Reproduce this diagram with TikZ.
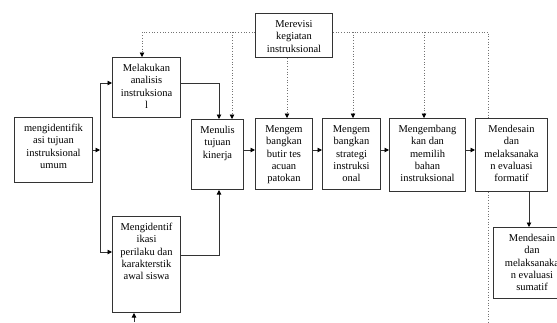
\documentclass[tikz,border=0pt]{standalone}
\usepackage{fontspec}
\setmainfont{Liberation Serif}
\usetikzlibrary{arrows.meta}
\newcommand{\bt}[3]{\parbox[c][#2][t]{#1}{\centering\vspace*{5.5pt}\strut #3\par}}
\begin{document}
\begin{tikzpicture}[x=1pt,y=-1pt,
  box/.style={draw=black!80, line width=1pt, fill=white, inner sep=0pt, anchor=north west, font=\fontsize{10.5}{12.3}\selectfont},
  conn/.style={draw=black!80, line width=0.9pt},
  arr/.style={conn, -{Triangle[length=4.5pt,width=4.5pt,fill=black,color=black]}},
  fb/.style={draw=black!55, dotted, line width=0.7pt},
  fbarr/.style={fb, -{Triangle[length=4.5pt,width=4.5pt,fill=black,color=black]}}]
\useasboundingbox (0,0) rectangle (557,322);

\node[box] (merevisi) at (255,13) {\bt{77pt}{44pt}{Merevisi\\kegiatan\\instruksional}};
\node[box] (melakukan) at (112,57) {\bt{68pt}{60pt}{Melakukan\\analisis\\instruksiona\\l}};
\node[box] (ident) at (14,117) {\bt{78pt}{65pt}{mengidentifik\\asi tujuan\\instruksional\\umum}};
\node[box] (menulis) at (191,119) {\bt{52pt}{70pt}{Menulis\\tujuan\\kinerja}};
\node[box] (butir) at (255,118) {\bt{57pt}{71pt}{Mengem\\bangkan\\butir tes\\acuan\\patokan}};
\node[box] (strategi) at (322,118) {\bt{58pt}{71pt}{Mengem\\bangkan\\strategi\\instruksi\\onal}};
\node[box] (bahan) at (389,118) {\bt{76pt}{73pt}{Mengembang\\kan dan\\memilih\\bahan\\instruksional}};
\node[box] (formatif) at (475,118) {\bt{72pt}{73pt}{Mendesain\\dan\\melaksanaka\\n evaluasi\\formatif}};
\node[box] (sumatif) at (493,227) {\bt{77pt}{71pt}{Mendesain\\dan\\melaksanaka\\n evaluasi\\sumatif}};
\node[box] (perilaku) at (112,216) {\bt{68pt}{96pt}{Mengidentif\\ikasi\\perilaku dan\\karakterstik\\awal siswa}};

\coordinate (ln) at (0,32);
\coordinate (hy) at (0,150);
\coordinate (ya) at (0,83);
\coordinate (yb) at (0,252);
\coordinate (yc) at (0,255);
\coordinate (vx) at (100,0);
\coordinate (cx) at (219,0);
\coordinate (sx) at (529,0);
\coordinate (fx) at (488,0);
\coordinate (dxa) at (142,0);
\coordinate (dxb) at (232,0);
\coordinate (dxc) at (287,0);
\coordinate (dxd) at (353,0);
\coordinate (dxe) at (424,0);
\coordinate (bot) at (134,322);
\coordinate (fbot) at (488,322);

% solid connectors
\draw[arr] (ident.east |- hy) -- (vx |- hy);
\draw[conn] (vx |- ya) -- (vx |- yb);
\draw[arr] (vx |- ya) -- (melakukan.west |- ya);
\draw[arr] (vx |- yb) -- (perilaku.west |- yb);
\draw[arr] (melakukan.east |- ya) -| (cx |- menulis.north);
\draw[arr] (perilaku.east |- yc) -| (cx |- menulis.south);
\draw[arr] (menulis.east |- hy) -- (butir.west |- hy);
\draw[arr] (butir.east |- hy) -- (strategi.west |- hy);
\draw[arr] (strategi.east |- hy) -- (bahan.west |- hy);
\draw[arr] (bahan.east |- hy) -- (formatif.west |- hy);
\draw[arr] (formatif.south -| sx) -- (sumatif.north -| sx);
\draw[arr] (bot) -- (perilaku.south -| bot);

% dotted feedback
\draw[fbarr] (merevisi.west |- ln) -| (dxa |- melakukan.north);
\draw[fbarr] (dxb |- ln) -- (dxb |- menulis.north);
\draw[fbarr] (merevisi.south -| dxc) -- (dxc |- butir.north);
\draw[fb] (merevisi.east |- ln) -| (fx |- formatif.north);
\draw[fbarr] (dxd |- ln) -- (dxd |- strategi.north);
\draw[fbarr] (dxe |- ln) -- (dxe |- bahan.north);
\draw[fb] (fx |- formatif.south) -- (fbot);
\end{tikzpicture}
\end{document}
